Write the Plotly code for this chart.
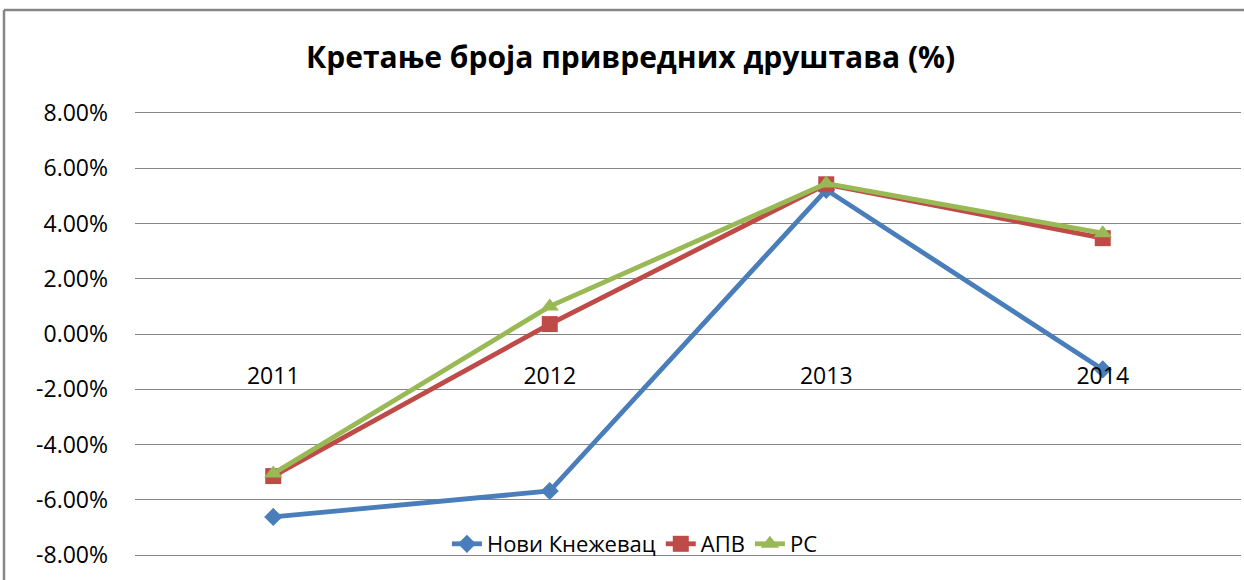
import plotly.graph_objects as go

years = ["2011", "2012", "2013", "2014"]
novi_knezevac = [-0.0662, -0.0568, 0.0522, -0.0128]
apv = [-0.0514, 0.0036, 0.0542, 0.0347]
rs = [-0.0505, 0.0100, 0.0545, 0.0365]
series_names = ["Нови Кнежевац", "АПВ", "РС"]
title_text = "Кретање броја привредних друштава (%)"
y_ticks = [-0.08, -0.06, -0.04, -0.02, 0.0, 0.02, 0.04, 0.06, 0.08]
y_ticktext = [f"{v * 100:.2f}%" for v in y_ticks]

W, H = 1244, 580
L, R, T, B = 135, 3, 100, 5

fig = go.Figure()
specs = [
    (novi_knezevac, "#4A7EBB", "diamond", 14),
    (apv, "#BE4B48", "square", 16),
    (rs, "#98B954", "triangle-up", 16),
]
for name, (vals, col, sym, sz) in zip(series_names, specs):
    fig.add_trace(go.Scatter(
        x=years, y=vals, name=name, mode="lines+markers",
        line=dict(color=col, width=4.8),
        marker=dict(symbol=sym, size=sz, color=col, line=dict(width=0)),
    ))

pw = W - L - R
ph = H - T - B
fig.update_layout(
    width=W, height=H,
    margin=dict(l=L, r=R, t=T, b=B),
    paper_bgcolor="white", plot_bgcolor="white",
    title=dict(text=title_text, x=0.507, xanchor="center", y=1 - 57 / H, yanchor="middle",
               font=dict(family="Open Sans", size=30, color="black", weight="bold")),
    font=dict(family="Open Sans", color="black"),
    showlegend=True,
    legend=dict(orientation="h", x=0.452, xanchor="center", y=(575 - 544) / ph, yanchor="middle",
                font=dict(size=22, family="Open Sans"), bgcolor="rgba(0,0,0,0)",
                tracegroupgap=0),
    xaxis=dict(type="category", range=[-0.5, 3.5], showgrid=False, showline=False,
               zeroline=False, ticks="", anchor="free", position=(575 - 360) / ph,
               tickfont=dict(size=23, family="Open Sans", color="black")),
    yaxis=dict(range=[-0.0872, 0.0847], tickvals=y_ticks, ticktext=y_ticktext,
               showgrid=True, gridcolor="#868686", gridwidth=1.2, zeroline=False,
               showline=False, ticks="", ticklabelstandoff=26,
               tickfont=dict(size=23, family="Open Sans", color="black")),
    shapes=[
        dict(type="line", xref="paper", yref="paper", x0=(4 - L) / pw, x1=(4 - L) / pw,
             y0=(575 - 10) / ph, y1=-0.1, line=dict(color="#868686", width=2.5)),
        dict(type="line", xref="paper", yref="paper", x0=(4 - L) / pw, x1=1.01,
             y0=(575 - 10) / ph, y1=(575 - 10) / ph, line=dict(color="#868686", width=2.5)),
    ],
)

fig.write_html("out.html", config={"displayModeBar": False},
               post_script="document.body.style.margin='0';document.body.style.overflow='hidden';")
